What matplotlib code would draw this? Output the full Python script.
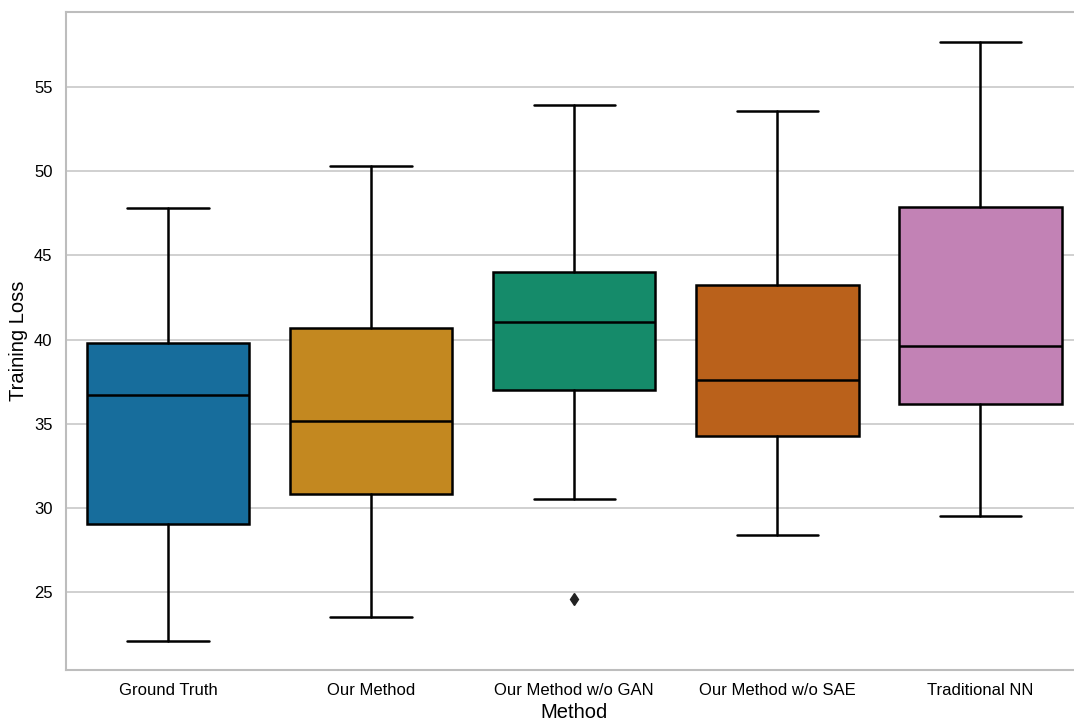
import matplotlib
matplotlib.use('Agg')
import matplotlib.pyplot as plt
import seaborn as sns

# Данные: статистики ящиков
methods = ['Ground Truth', 'Our Method', 'Our Method w/o GAN', 'Our Method w/o SAE', 'Traditional NN']
whisker_low = [22.1, 23.5, 30.5, 28.4, 29.5]
q1 = [29.05, 30.8, 37.0, 34.3, 36.2]
medians = [36.7, 35.15, 41.05, 37.6, 39.6]
q3 = [39.8, 40.7, 44.0, 43.25, 47.9]
whisker_high = [47.8, 50.3, 53.95, 53.55, 57.7]
outliers = [[], [], [24.6], [], []]

sns.set_theme(style='whitegrid')
plt.rcParams['font.family'] = ['Liberation Sans', 'DejaVu Sans']

palette = [sns.desaturate(c, 0.75) for c in sns.color_palette('colorblind', len(methods))]

stats = []
for i, name in enumerate(methods):
    stats.append({
        'label': name,
        'whislo': whisker_low[i],
        'q1': q1[i],
        'med': medians[i],
        'q3': q3[i],
        'whishi': whisker_high[i],
        'fliers': outliers[i],
    })

fig = plt.figure(figsize=(10.74, 7.22), dpi=100)
# правый край осей уходит чуть за пределы картинки, как в оригинале
ax = fig.add_axes([0.0618, 0.072, 0.9456, 0.9114])

line = dict(color='black', linewidth=1.8)
bp = ax.bxp(stats, positions=range(len(methods)), widths=0.8, patch_artist=True,
            boxprops=dict(edgecolor='black', linewidth=1.8),
            medianprops=line, whiskerprops=line, capprops=line,
            flierprops=dict(marker='d', markerfacecolor='#222222',
                            markeredgecolor='#222222', markersize=6))
for patch, col in zip(bp['boxes'], palette):
    patch.set_facecolor(col)

ax.set_xlim(-0.5, len(methods) - 0.5)
ax.set_ylim(20.37, 59.46)
ax.set_yticks([25, 30, 35, 40, 45, 50, 55])
ax.grid(axis='x', visible=False)
ax.grid(axis='y', color='#c8c8c8', linewidth=1.2)
ax.set_axisbelow(True)
for s in ax.spines.values():
    s.set_color('#bdbdbd')
    s.set_linewidth(1.5)

ax.tick_params(axis='both', labelsize=12, colors='black', length=0)
ax.tick_params(axis='x', pad=9)
ax.tick_params(axis='y', pad=10)
ax.set_xlabel('Method', fontsize=14.5, labelpad=4, color='black')
ax.set_ylabel('Training Loss', fontsize=14.5, labelpad=4, color='black')

fig.savefig('out.png', dpi=100)
plt.close(fig)
